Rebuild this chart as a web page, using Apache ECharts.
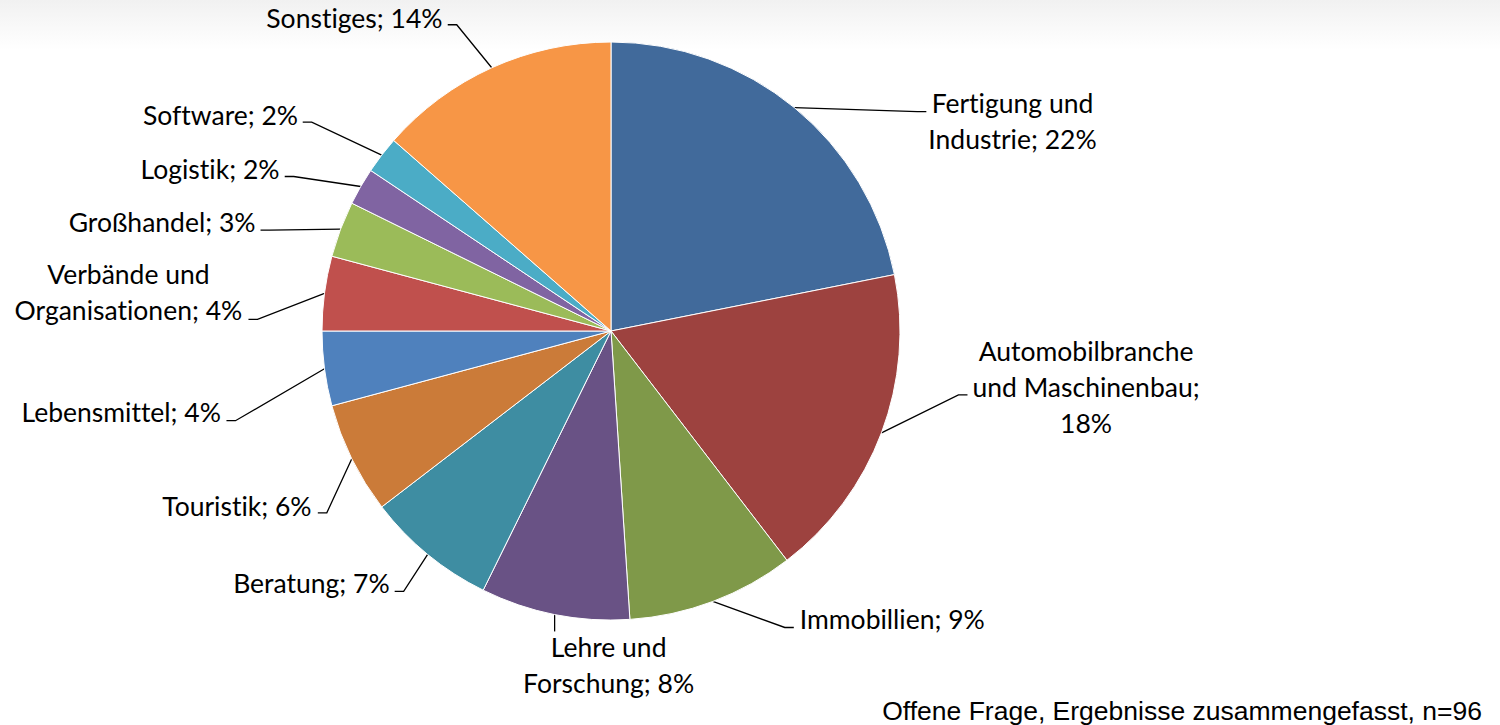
<!DOCTYPE html>
<html>
<head>
<meta charset="utf-8">
<title>Branchen</title>
<script src="https://cdn.jsdelivr.net/npm/echarts@6/dist/echarts.min.js"></script>
<style>
  html, body { margin: 0; padding: 0; background: #fff; }
  #chart { width: 1500px; height: 725px; }
  /* Lato setzt sonst die ti-Ligatur */
  #chart text { font-variant-ligatures: none; }
</style>
</head>
<body>
<div id="chart"></div>
<script>
// Kategorien (Uhrzeigersinn ab 12 Uhr) und Anzahl Nennungen, n=96
const categories = [
  'Fertigung und\nIndustrie',
  'Automobilbranche\nund Maschinenbau',
  'Immobillien',
  'Lehre und\nForschung',
  'Beratung',
  'Touristik',
  'Lebensmittel',
  'Verbände und\nOrganisationen',
  'Großhandel',
  'Logistik',
  'Software',
  'Sonstiges'
]
const counts = [21, 17, 9, 8, 7, 6, 4, 4, 3, 2, 2, 13]
// Trenner zwischen Name und Prozentwert
const separators = ['; ', ';\n', '; ', '; ', '; ', '; ', '; ', '; ', '; ', '; ', '; ', '; ']
const colors = [
  '#416A9B', '#9D423F', '#7F9949', '#695285', '#3E8DA2', '#CB7B39',
  '#4F81BD', '#C0504D', '#9BBB59', '#8064A2', '#4BACC6', '#F79646'
]
const footnote = 'Offene Frage, Ergebnisse zusammengefasst, n=96'

// Beschriftungs-Layout wie in Excel: Ende der Führungslinie relativ zum Sektorrand
// [dx, dy] und Textblock relativ zum Linienende [tx, ty]
const leaderEnd = [
  [132, 4], [86, -38], [81, 26], [0, 17], [-33, 37], [-34, 54],
  [-98, 52], [-76, 26], [-80, 1], [-76, -10], [-79, -33], [-44, -43]
]
const textOffset = [
  [2, 9], [5, -8], [6, -8], [54, 34], [-5, -8], [-6, -7],
  [-6, -9], [-6, -27], [-5, -8], [-5, -8], [-5, -7], [-5, -7]
]
const TICK = 9

const chart = echarts.init(document.getElementById('chart'), null, { renderer: 'svg' })

const labelFont = 'Lato, "Noto Sans", sans-serif'

const option = {
  backgroundColor: '#fff',
  animation: false,
  graphic: [
    {
      type: 'rect',
      left: 0,
      top: 0,
      z: -10,
      shape: { width: 1500, height: 50 },
      style: {
        fill: new echarts.graphic.LinearGradient(0, 0, 0, 1, [
          { offset: 0, color: '#f1f1f1' },
          { offset: 1, color: '#ffffff' }
        ])
      }
    },
    {
      type: 'text',
      right: 18,
      bottom: 1,
      style: {
        text: footnote,
        font: '26.5px "Liberation Sans", Arial, sans-serif',
        fill: '#000'
      }
    }
  ],
  series: [
    {
      type: 'pie',
      center: [611, 331],
      radius: 289,
      startAngle: 90,
      clockwise: true,
      avoidLabelOverlap: false,
      itemStyle: { borderColor: '#fff', borderWidth: 1 },
      label: {
        show: true,
        position: 'outside',
        color: '#000',
        fontFamily: labelFont,
        fontSize: 26.5,
        lineHeight: 36,
        formatter: (p) => {
          const pct = Math.round(p.percent)
          const text = p.name + separators[p.dataIndex] + pct + '%'
          return text.split('\n').map((l) => '{c|' + l + '}').join('\n')
        },
        rich: {
          c: { align: 'center', fontFamily: labelFont, fontSize: 26.5, lineHeight: 36, color: '#000' }
        }
      },
      labelLine: {
        show: true,
        length: 20,
        length2: 10,
        lineStyle: { color: '#000', width: 1.3 }
      },
      labelLayout: (params) => {
        const i = params.dataIndex
        const edge = params.labelLinePoints[0]
        const end = [edge[0] + leaderEnd[i][0], edge[1] + leaderEnd[i][1]]
        const x = end[0] + textOffset[i][0]
        const y = end[1] + textOffset[i][1]
        if (leaderEnd[i][0] === 0) {
          // senkrechte Linie, Text darunter zentriert
          return { x, y, align: 'center', verticalAlign: 'middle', labelLinePoints: [edge, end] }
        }
        const right = leaderEnd[i][0] > 0
        const bend = [end[0] + (right ? -TICK : TICK), end[1]]
        return {
          x,
          y,
          align: right ? 'left' : 'right',
          verticalAlign: 'middle',
          labelLinePoints: [edge, bend, end]
        }
      },
      emphasis: { disabled: true },
      data: categories.map((name, i) => ({
        name,
        value: counts[i],
        itemStyle: { color: colors[i] }
      }))
    }
  ]
}

chart.setOption(option)
window.addEventListener('resize', () => chart.resize())
</script>
</body>
</html>
